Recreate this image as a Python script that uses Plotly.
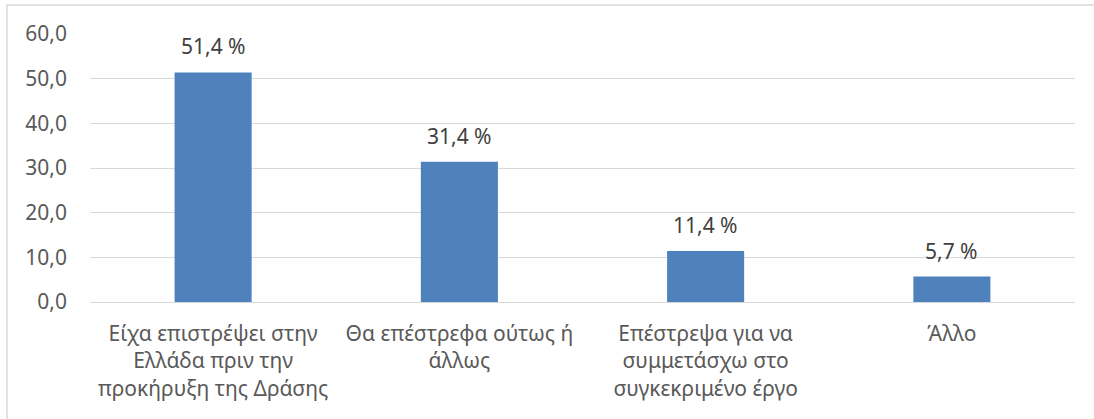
import plotly.graph_objects as go

categories = [
    "Είχα επιστρέψει στην<br>Ελλάδα πριν την<br>προκήρυξη της Δράσης",
    "Θα επέστρεφα ούτως ή<br>άλλως",
    "Επέστρεψα για να<br>συμμετάσχω στο<br>συγκεκριμένο έργο",
    "Άλλο",
]
values = [51.4, 31.4, 11.4, 5.7]
value_labels = ["51,4 %", "31,4 %", "11,4 %", "5,7 %"]
tick_vals = [0, 10, 20, 30, 40, 50, 60]
tick_text = ["0,0", "10,0", "20,0", "30,0", "40,0", "50,0", "60,0"]

W, H = 1094, 419
L, R, T, B = 90, 19, 34, 117
pw, ph = W - L - R, H - T - B
FONT = "Noto Sans"
FS = 21

fig = go.Figure(go.Bar(
    x=categories, y=values,
    marker=dict(color="#4f81bd", line=dict(width=0)),
))

for c, v, t in zip(categories, values, value_labels):
    fig.add_annotation(x=c, y=v, text=t, showarrow=False, yanchor="bottom",
                       yshift=10, font=dict(family=FONT, size=FS, color="#404040"))

def px_x(x):
    return (x - L) / pw

def px_y(y):
    return (H - B - y) / ph

fig.update_layout(
    width=W, height=H,
    margin=dict(l=L, r=R, t=T, b=B, autoexpand=False),
    paper_bgcolor="white", plot_bgcolor="white",
    bargap=0.687,
    showlegend=False,
    font=dict(family=FONT, size=FS, color="#595959"),
    xaxis=dict(showgrid=False, showline=False, ticks="", automargin=False,
               ticklabelstandoff=17,
               tickfont=dict(family=FONT, size=FS, color="#595959")),
    yaxis=dict(range=[0, 60], tickvals=tick_vals, ticktext=tick_text,
               showgrid=True, gridcolor="#d9d9d9", gridwidth=1.3,
               zeroline=True, zerolinecolor="#d9d9d9", zerolinewidth=1.3,
               showline=False, ticks="", ticklabelstandoff=22, automargin=False,
               tickfont=dict(family=FONT, size=FS, color="#595959")),
    shapes=[dict(type="rect", xref="paper", yref="paper",
                 x0=px_x(7), x1=px_x(1097), y0=px_y(5), y1=px_y(421),
                 line=dict(color="#d9d9d9", width=1.5), fillcolor="rgba(0,0,0,0)",
                 layer="below")],
)

fig.write_html("out.html", config={"displayModeBar": False},
               post_script="document.body.style.margin='0';")
